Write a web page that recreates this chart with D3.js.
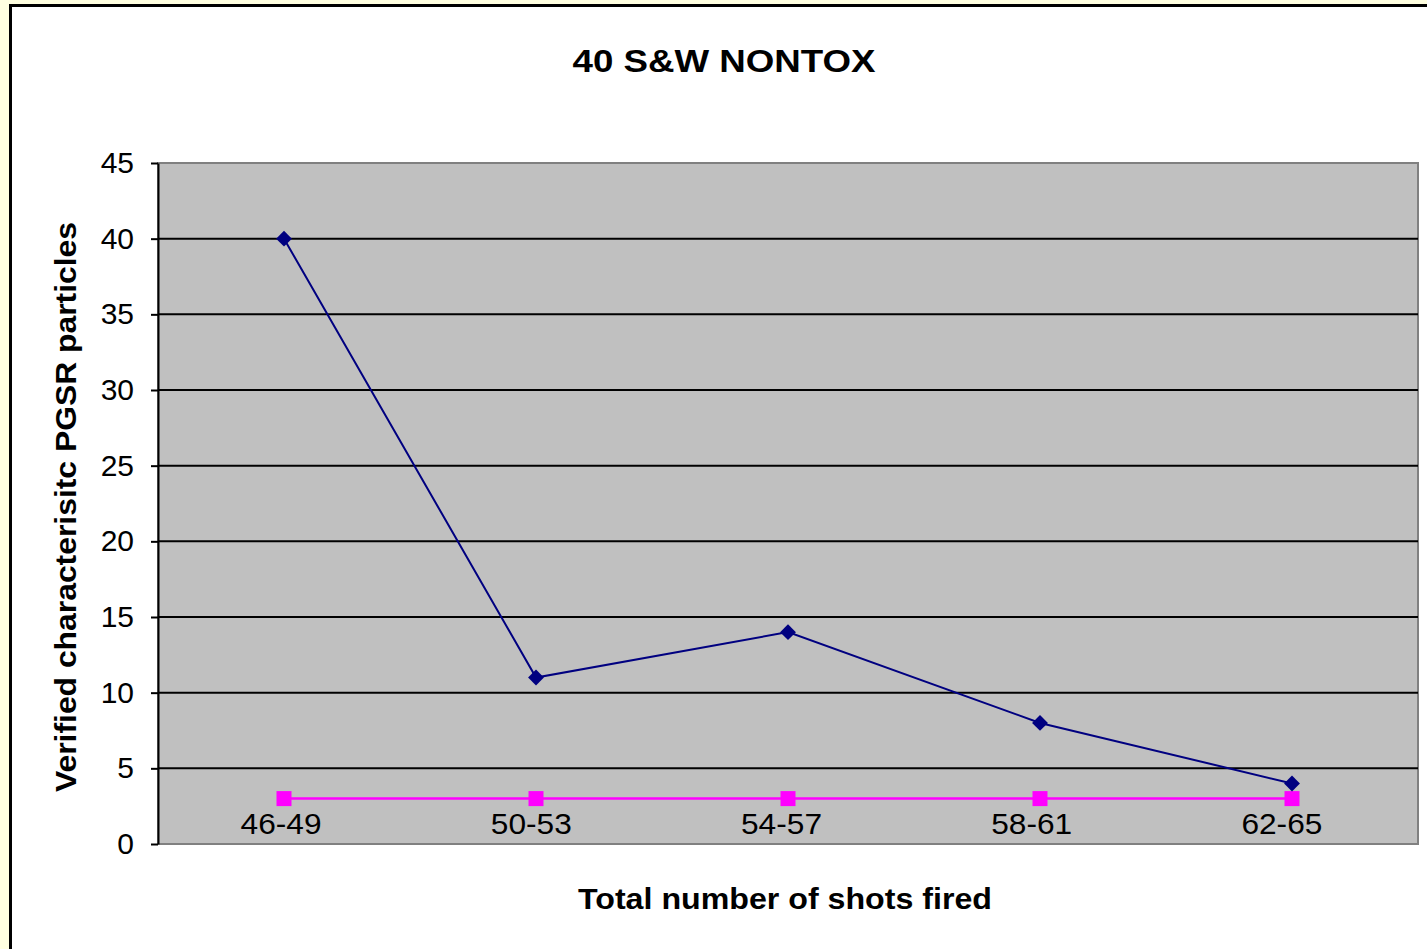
<!DOCTYPE html>
<html><head><meta charset="utf-8">
<script src="https://cdn.jsdelivr.net/npm/d3@7"></script>
<style>body{margin:0;background:#FFFFE0;overflow:hidden}svg{display:block}</style>
</head><body>
<svg id="c" width="1427" height="949"></svg>
<script>
const categories = ["46-49","50-53","54-57","58-61","62-65"];
const seriesA = [40, 11, 14, 8, 4];
const seriesB = [3, 3, 3, 3, 3];
const yTicks = [0,5,10,15,20,25,30,35,40,45];
const title = "40 S&W NONTOX";
const xTitle = "Total number of shots fired";
const yTitle = "Verified characterisitc PGSR particles";

const svg = d3.select("#c");
const font = "'Liberation Sans', Arial, sans-serif";
// chart area
svg.append("rect").attr("x",10.5).attr("y",5.5).attr("width",1430).attr("height",960)
  .attr("fill","#fff").attr("stroke","#000").attr("stroke-width",3);

const L=158, R=1418, T=163, B=844;
const x = d3.scaleBand().domain(categories).range([L,R]);
const xLab = d3.scaleBand().domain(categories).range([L,R-9]);
const y = d3.scaleLinear().domain([0,45]).range([B,T]);

svg.append("rect").attr("x",L).attr("y",T).attr("width",R-L).attr("height",B-T)
  .attr("fill","#C0C0C0").attr("stroke","#808080").attr("stroke-width",2);

// gridlines
svg.append("g").selectAll("line").data(yTicks.filter(d=>d>0 && d<45)).join("line")
  .attr("x1",L).attr("x2",R).attr("y1",d=>y(d)).attr("y2",d=>y(d))
  .attr("stroke","#000").attr("stroke-width",2);

// y axis
const ya = svg.append("g").attr("transform",`translate(${L},0)`)
  .call(d3.axisLeft(y).tickValues(yTicks).tickSize(7).tickPadding(17).tickSizeOuter(0));
ya.select(".domain").attr("stroke","#000").attr("stroke-width",2);
ya.selectAll(".tick line").attr("stroke","#000").attr("stroke-width",2);
ya.selectAll("text").attr("font-family",font).attr("font-size",30).attr("fill","#000");

// x labels
svg.append("g").selectAll("text").data(categories).join("text")
  .attr("x",d=>xLab(d)+xLab.bandwidth()/2-2).attr("y",834)
  .attr("text-anchor","middle").attr("font-family",font).attr("font-size",29)
  .attr("textLength",81).attr("lengthAdjust","spacingAndGlyphs")
  .text(d=>d);

const cx = (d,i)=>x(categories[i])+x.bandwidth()/2;
// series B
svg.append("path").datum(seriesB)
  .attr("d",d3.line().x(cx).y(d=>y(d)))
  .attr("fill","none").attr("stroke","#FF00FF").attr("stroke-width",2.5);
svg.append("g").selectAll("rect").data(seriesB).join("rect")
  .attr("x",(d,i)=>cx(d,i)-7.5).attr("y",d=>y(d)-7.5).attr("width",15).attr("height",15)
  .attr("fill","#FF00FF");
// series A
svg.append("path").datum(seriesA)
  .attr("d",d3.line().x(cx).y(d=>y(d)))
  .attr("fill","none").attr("stroke","#000080").attr("stroke-width",2);
svg.append("g").selectAll("path.m").data(seriesA).join("path")
  .attr("transform",(d,i)=>`translate(${cx(d,i)},${y(d)})`)
  .attr("d",d3.symbol(d3.symbolDiamond2,160))
  .attr("fill","#000080");

// titles
svg.append("text").attr("x",724).attr("y",72).attr("text-anchor","middle")
  .attr("font-family",font).attr("font-weight","bold").attr("font-size",31)
  .attr("textLength",303).attr("lengthAdjust","spacingAndGlyphs").text(title);
svg.append("text").attr("x",785).attr("y",909).attr("text-anchor","middle")
  .attr("font-family",font).attr("font-weight","bold").attr("font-size",29)
  .attr("textLength",414).attr("lengthAdjust","spacingAndGlyphs").text(xTitle);
svg.append("text").attr("transform","translate(76,507) rotate(-90)").attr("text-anchor","middle")
  .attr("font-family",font).attr("font-weight","bold").attr("font-size",29)
  .attr("textLength",570).attr("lengthAdjust","spacingAndGlyphs").text(yTitle);
</script>
</body></html>
